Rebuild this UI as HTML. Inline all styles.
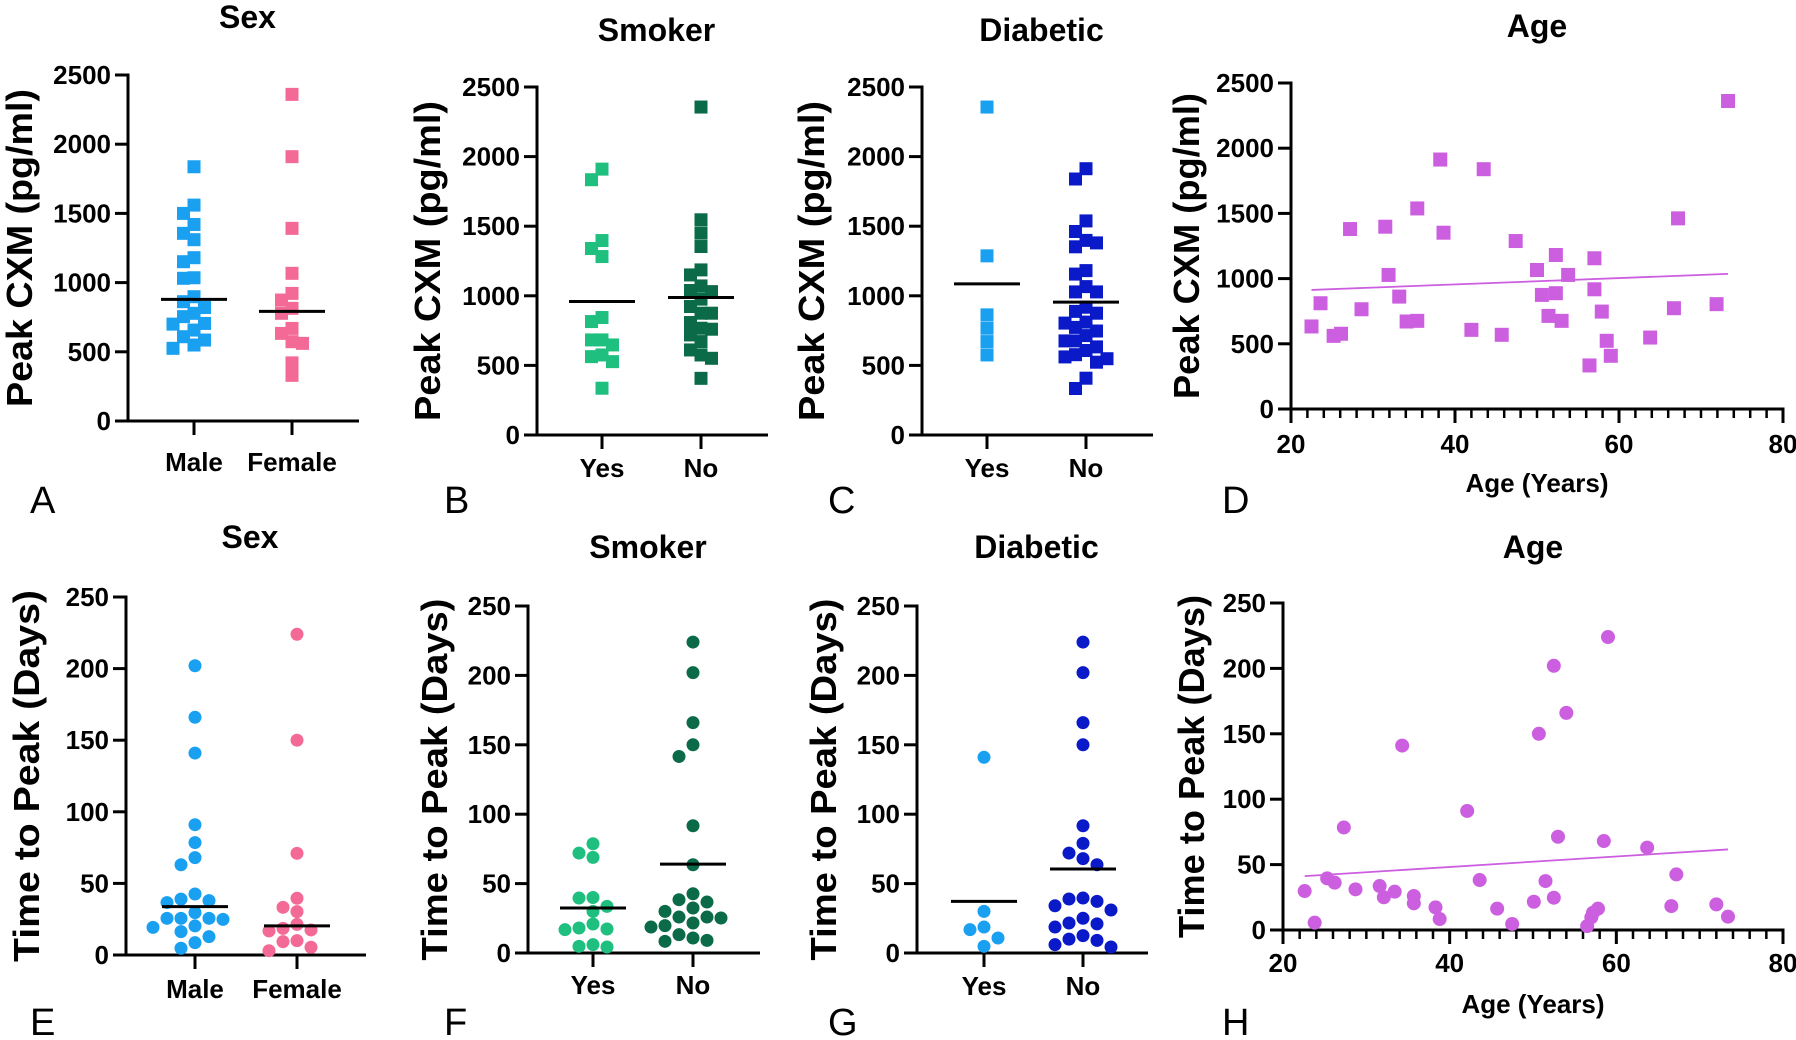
<!DOCTYPE html>
<html><head><meta charset="utf-8">
<style>
html,body{margin:0;padding:0;background:#fff;}
svg{display:block;}
text{font-family:"Liberation Sans",Arial,sans-serif;}
</style></head>
<body>
<svg id="fig" xmlns="http://www.w3.org/2000/svg" width="1796" height="1040" viewBox="0 0 1796 1040"></svg>
<script>
// ---------- DATA ----------
const cxmTicks = [0, 500, 1000, 1500, 2000, 2500];
const daysTicks = [0, 50, 100, 150, 200, 250];
const ageTicks = [20, 40, 60, 80];
const sexCats = ["Male", "Female"];
const yesNoCats = ["Yes", "No"];

const sexMaleCXM = [1837,1560,1500,1420,1310,1356,1151,1180,1035,1031,898,862,778,705,820,700,754,657,609,525,585,549];
const sexFemaleCXM = [2360,1910,1392,1067,874,922,814,778,669,573,633,561,420,330];
const sexCXMLines = [879, 792];

const smokerYesCXM = [1910,1834,1397,1340,1282,815,844,683,647,683,575,527,563,336];
const smokerNoCXM = [2356,1546,1450,1354,1150,1186,1071,1038,1030,923,976,875,875,808,760,767,719,671,611,575,551,407];
const smokerCXMLines = [959, 988];

const diabYesCXM = [2356,1287,863,767,671,575];
const diabNoCXM = [633,811,561,577,1380,1398,1028,676,1538,1913,1352,607,1839,1066,875,714,1181,888,676,1028,334,1156,918,747,523,408,548,773,1462,804];
const diabCXMLines = [1086, 955];

const ageYearsD = [22.5,23.6,25.2,26.1,27.2,28.6,31.5,31.9,33.2,34.1,35.4,35.4,38.2,38.6,42.0,43.5,45.7,47.4,50.0,50.6,51.4,52.3,52.3,53.0,53.8,56.4,57.0,57.0,57.9,58.5,59.0,63.8,66.7,67.2,71.9,73.3];
const ageCXM = [633,811,561,577,1380,765,1398,1028,862,671,676,1538,1913,1352,607,1839,569,1288,1066,875,714,1181,888,676,1028,334,1156,918,747,523,408,548,773,1462,804,2362];
const ageCXMFitX = [22.5, 73.3];
const ageCXMFitY = [913, 1036];

const sexMaleDays = [202,166,141,91,78.5,68,63,42.6,38,39,36.6,29.6,25.6,25.6,24.9,25.6,19.3,20.3,16.3,12.8,8.6,4.7];
const sexFemaleDays = [224,150,71,39.6,33.3,30.3,21.4,16.8,17.5,18.6,10,9.3,5.4,3];
const sexDaysLines = [33.8, 20.3];

const smokerYesDays = [78.7,68.9,72,39.6,40,33.6,30,20.9,17.3,18,16.8,4.3,6,4.8];
const smokerNoDays = [224,202,166,150,141.6,91.7,63.6,42.7,38.4,36.7,32.4,30,25.9,25.9,25.2,21.6,18.7,19.7,13.2,10.8,9.1,8.4];
const smokerDaysLines = [32.4, 64];

const diabYesDays = [141,30,16.8,18.7,10.8,4.8];
const diabNoDays = [224,202,166,150,91.7,79,72,68,63.6,39.6,38.9,37.2,34,31,25,21.6,21,18.7,12.5,9.1,10,6,4.3];
const diabDaysLines = [37.2, 60.5];

const ageYearsH = [22.6,23.8,25.3,26.2,27.3,28.7,31.6,32.1,33.4,34.3,35.7,35.7,38.3,38.8,42.1,43.6,45.7,47.5,50.1,50.7,51.5,52.5,52.5,53.0,54.0,56.5,57.0,57.2,57.8,58.5,59.0,63.7,66.6,67.2,72.0,73.4];
const ageDays = [29.8,5.6,39.5,36.2,78.4,31.1,33.6,25,29.3,141,26,20.4,17.3,8.4,91,38.2,16.3,4.6,21.6,150,37.4,202,24.7,71.3,166,3,9.7,13.2,16.3,68,224,63,18.3,42.5,19.6,10.2];
const ageDaysFitX = [22.6, 73.4];
const ageDaysFitY = [41.2, 61.6];

// ---------- COLOURS ----------
const C_LBLUE = "#1aa0f0", C_PINK = "#f26a95", C_LGREEN = "#1fbf80", C_DGREEN = "#0b6b49", C_DBLUE = "#0a1ac8", C_VIOLET = "#cc5ee0";

const svg = document.getElementById("fig");
const NS = "http://www.w3.org/2000/svg";

function mk(tag, attrs, parent, name) {
  const el = document.createElementNS(NS, tag);
  for (const k in attrs) el.setAttribute(k, attrs[k]);
  
  
  (parent || svg).appendChild(el);
  return el;
}
function txt(s, x, y, size, anchor, weight, parent, name, extra) {
  const a = {x: x, y: y, "font-size": size, "text-anchor": anchor, "font-weight": weight, fill: "#000"};
  if (extra) for (const k in extra) a[k] = extra[k];
  const t = mk("text", a, parent, name);
  t.textContent = s;
  return t;
}

function yAxis(g, p, ticks, max, title, titleLen) {
  const ys = v => p.y0 - v / max * (p.y0 - p.yT);
  mk("line", {x1: p.ax, y1: p.y0 + 1.5, x2: p.ax, y2: p.yT - 1.5, stroke: "#000", "stroke-width": 3}, g, "y-axis-line");
  ticks.forEach(v => {
    mk("line", {x1: p.ax - 13, y1: ys(v), x2: p.ax, y2: ys(v), stroke: "#000", "stroke-width": 3}, g, "y-tick");
    txt(String(v), p.ax - 17, ys(v) + 9, 26, "end", "bold", g, "y-tick-label");
  });
  txt(title, 0, 0, 36, "middle", "bold", g, "y-axis-title",
      {transform: "translate(" + (p.tx + 12) + "," + ((p.y0 + p.yT) / 2) + ") rotate(-90)", textLength: titleLen, lengthAdjust: "spacingAndGlyphs"});
  return ys;
}

function swarm(vals, ys, step, size) {
  const idx = vals.map((v, i) => i).sort((a, b) => vals[b] - vals[a]);
  const placed = [], off = new Array(vals.length);
  idx.forEach(i => {
    const y = ys(vals[i]);
    for (let k = 0; k < 20; k++) {
      const m = k === 0 ? 0 : (k % 2 ? -Math.ceil(k / 2) : Math.ceil(k / 2));
      const o = m * step;
      if (!placed.some(p => p.o === o && Math.abs(p.y - y) < size)) { placed.push({o: o, y: y}); off[i] = o; break; }
    }
  });
  return off;
}

function catPanel(p, cats, groups, colors, lines, ticks, max, title, yTitle, titleLen, shape) {
  const g = mk("g", {}, svg, p.name);
  txt(title, (p.ax + p.xEnd) / 2 + 4, p.titleY, 32, "middle", "bold", g, "panel-title");
  const ys = yAxis(g, p, ticks, max, yTitle, titleLen);
  mk("line", {x1: p.ax - 1.5, y1: p.y0, x2: p.xEnd, y2: p.y0, stroke: "#000", "stroke-width": 3}, g, "x-axis-line");
  cats.forEach((c, ci) => {
    const cx = p.cats[ci];
    mk("line", {x1: cx, y1: p.y0, x2: cx, y2: p.y0 + 14, stroke: "#000", "stroke-width": 3}, g, "x-tick");
    txt(c, cx, p.catY, 26, "middle", "bold", g, "x-category-label");
    const vals = groups[ci];
    const step = shape === "sq" ? 10.5 : 14;
    const off = swarm(vals, ys, step, shape === "sq" ? 12 : 12);
    vals.forEach((v, i) => {
      if (shape === "sq") {
        mk("rect", {x: cx + off[i] - 6.5, y: ys(v) - 6.5, width: 13, height: 13, fill: colors[ci]}, g, "data-point");
      } else {
        mk("circle", {cx: cx + off[i], cy: ys(v), r: 6.5, fill: colors[ci]}, g, "data-point");
      }
    });
    mk("line", {x1: cx - 33, y1: ys(lines[ci]), x2: cx + 33, y2: ys(lines[ci]), stroke: "#000", "stroke-width": 3}, g, "median-line");
  });
  txt(p.letter, p.lx, p.ly, 38, "start", "normal", g, "panel-letter");
}

function scatterPanel(p, xs, vals, fitX, fitY, ticks, max, title, yTitle, titleLen, shape) {
  const g = mk("g", {}, svg, p.name);
  txt(title, (p.ax + p.xEnd) / 2, p.titleY, 32, "middle", "bold", g, "panel-title");
  const ys = yAxis(g, p, ticks, max, yTitle, titleLen);
  const xsF = a => p.ax + (a - 20) / 60 * (p.xEnd - p.ax);
  mk("line", {x1: p.ax - 1.5, y1: p.y0, x2: p.xEnd + 1.5, y2: p.y0, stroke: "#000", "stroke-width": 3}, g, "x-axis-line");
  for (let a = 20; a <= 80; a += 2) {
    const major = ageTicks.indexOf(a) >= 0;
    mk("line", {x1: xsF(a), y1: p.y0, x2: xsF(a), y2: p.y0 + (major ? 14 : 9), stroke: "#000", "stroke-width": major ? 3 : 2.5}, g, major ? "x-tick" : "x-minor-tick");
  }
  ageTicks.forEach(a => txt(String(a), xsF(a), p.tickY, 26, "middle", "bold", g, "x-tick-label"));
  txt("Age (Years)", (p.ax + p.xEnd) / 2, p.xTitleY, 26, "middle", "bold", g, "x-axis-title");
  mk("line", {x1: xsF(fitX[0]), y1: ys(fitY[0]), x2: xsF(fitX[1]), y2: ys(fitY[1]), stroke: C_VIOLET, "stroke-width": 1.8}, g, "regression-line");
  vals.forEach((v, i) => {
    if (shape === "sq") {
      mk("rect", {x: xsF(xs[i]) - 7, y: ys(v) - 7, width: 14, height: 14, fill: C_VIOLET}, g, "data-point");
    } else {
      mk("circle", {cx: xsF(xs[i]), cy: ys(v), r: 7, fill: C_VIOLET}, g, "data-point");
    }
  });
  txt(p.letter, p.lx, p.ly, 38, "start", "normal", g, "panel-letter");
}

// ---------- PANELS ----------
catPanel({name: "panel-a-sex-cxm", ax: 128, xEnd: 359, y0: 421, yT: 75, cats: [194, 292], tx: 20, titleY: 28, catY: 471, letter: "A", lx: 30, ly: 513},
  sexCats, [sexMaleCXM, sexFemaleCXM], [C_LBLUE, C_PINK], sexCXMLines, cxmTicks, 2500, "Sex", "Peak CXM (pg/ml)", 318, "sq");
catPanel({name: "panel-b-smoker-cxm", ax: 537, xEnd: 768, y0: 435, yT: 87, cats: [602, 701], tx: 428, titleY: 41, catY: 477, letter: "B", lx: 444, ly: 513},
  yesNoCats, [smokerYesCXM, smokerNoCXM], [C_LGREEN, C_DGREEN], smokerCXMLines, cxmTicks, 2500, "Smoker", "Peak CXM (pg/ml)", 320, "sq");
catPanel({name: "panel-c-diabetic-cxm", ax: 922, xEnd: 1153, y0: 435, yT: 87, cats: [987, 1086], tx: 812, titleY: 41, catY: 477, letter: "C", lx: 828, ly: 513},
  yesNoCats, [diabYesCXM, diabNoCXM], [C_LBLUE, C_DBLUE], diabCXMLines, cxmTicks, 2500, "Diabetic", "Peak CXM (pg/ml)", 320, "sq");
scatterPanel({name: "panel-d-age-cxm", ax: 1291, xEnd: 1783, y0: 409, yT: 83, tx: 1187, titleY: 37, tickY: 453, xTitleY: 492, letter: "D", lx: 1222, ly: 513},
  ageYearsD, ageCXM, ageCXMFitX, ageCXMFitY, cxmTicks, 2500, "Age", "Peak CXM (pg/ml)", 306, "sq");

catPanel({name: "panel-e-sex-days", ax: 126, xEnd: 366, y0: 955, yT: 597, cats: [195, 297], tx: 27, titleY: 548, catY: 998, letter: "E", lx: 30, ly: 1035},
  sexCats, [sexMaleDays, sexFemaleDays], [C_LBLUE, C_PINK], sexDaysLines, daysTicks, 250, "Sex", "Time to Peak (Days)", 372, "ci");
catPanel({name: "panel-f-smoker-days", ax: 528, xEnd: 760, y0: 953, yT: 606, cats: [593, 693], tx: 435, titleY: 558, catY: 994, letter: "F", lx: 444, ly: 1035},
  yesNoCats, [smokerYesDays, smokerNoDays], [C_LGREEN, C_DGREEN], smokerDaysLines, daysTicks, 250, "Smoker", "Time to Peak (Days)", 362, "ci");
catPanel({name: "panel-g-diabetic-days", ax: 917, xEnd: 1148, y0: 953, yT: 606, cats: [984, 1083], tx: 824, titleY: 558, catY: 995, letter: "G", lx: 828, ly: 1035},
  yesNoCats, [diabYesDays, diabNoDays], [C_LBLUE, C_DBLUE], diabDaysLines, daysTicks, 250, "Diabetic", "Time to Peak (Days)", 362, "ci");
scatterPanel({name: "panel-h-age-days", ax: 1283, xEnd: 1783, y0: 930, yT: 603, tx: 1192, titleY: 558, tickY: 972, xTitleY: 1013, letter: "H", lx: 1222, ly: 1035},
  ageYearsH, ageDays, ageDaysFitX, ageDaysFitY, daysTicks, 250, "Age", "Time to Peak (Days)", 343, "ci");
</script>
</body></html>
